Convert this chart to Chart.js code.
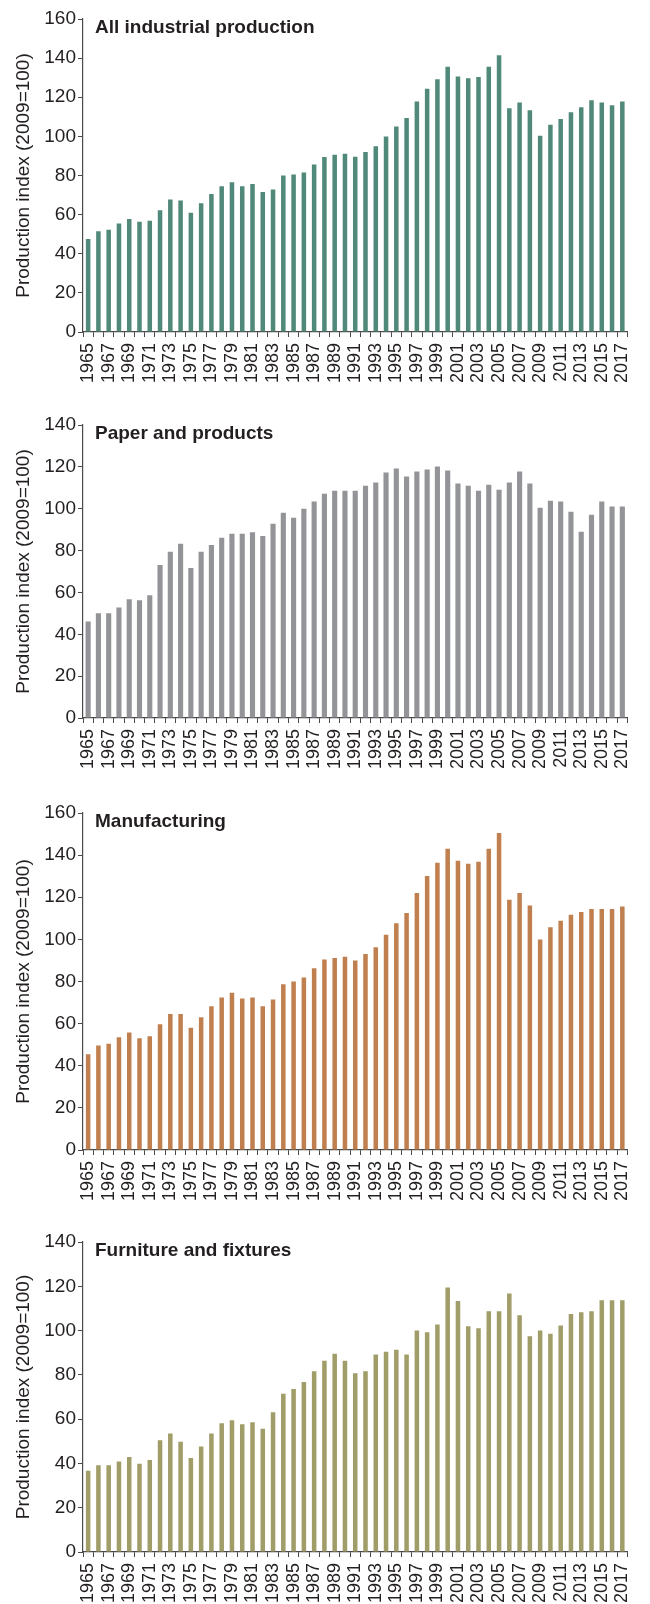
<!DOCTYPE html>
<html>
<head>
<meta charset="utf-8">
<script src="https://cdn.jsdelivr.net/npm/chart.js"></script>
<style>
  body { margin: 0; background: #fff; }
  #wrap { position: relative; width: 650px; height: 1604px; overflow: hidden; }
  canvas { position: absolute; left: 0; }
</style>
</head>
<body>
<div id="wrap">
  <canvas id="chart1" width="650" height="390" style="top:0px"></canvas>
  <canvas id="chart2" width="650" height="390" style="top:390px"></canvas>
  <canvas id="chart3" width="650" height="420" style="top:780px"></canvas>
  <canvas id="chart4" width="650" height="404" style="top:1200px"></canvas>
</div>
<script>
// Years along the x-axis
var years = [1965, 1966, 1967, 1968, 1969, 1970, 1971, 1972, 1973, 1974,
             1975, 1976, 1977, 1978, 1979, 1980, 1981, 1982, 1983, 1984,
             1985, 1986, 1987, 1988, 1989, 1990, 1991, 1992, 1993, 1994,
             1995, 1996, 1997, 1998, 1999, 2000, 2001, 2002, 2003, 2004,
             2005, 2006, 2007, 2008, 2009, 2010, 2011, 2012, 2013, 2014,
             2015, 2016, 2017];
// Production index values (2009=100)
var allIndustrial = [47.5, 51.5, 52.3, 55.4, 57.8, 56.4, 56.9, 62.2, 67.7, 67.2,
                     60.9, 65.8, 70.6, 74.5, 76.6, 74.5, 75.7, 71.6, 72.8, 80,
                     80.5, 81.5, 85.6, 89.5, 90.6, 91.1, 89.6, 92, 95, 100,
                     105, 109.4, 117.8, 124.3, 129.2, 135.6, 130.6, 129.7, 130.3, 135.6,
                     141.5, 114.4, 117.3, 113.3, 100.3, 106, 108.9, 112.3, 114.9, 118.5,
                     117.3, 115.9, 117.8];
var paper = [46.1, 50.1, 50.1, 52.8, 56.8, 56.3, 58.7, 73.1, 79.4, 83.2,
             71.7, 79.4, 82.7, 86.1, 88, 88, 88.8, 87, 92.8, 98.1,
             95.7, 100, 103.4, 107.2, 108.6, 108.6, 108.6, 111, 112.5, 117.3,
             119.2, 115.4, 117.8, 118.7, 120.2, 118.2, 112, 111, 108.6, 111.5,
             109.1, 112.5, 117.8, 112, 100.5, 103.8, 103.4, 98.6, 89, 97.1,
             103.4, 101, 101];
var manufacturing = [45.5, 49.6, 50.4, 53.5, 55.8, 53.1, 54, 59.7, 64.6, 64.6,
                     58, 63, 68.3, 72.4, 74.6, 71.9, 72.4, 68.3, 71.4, 78.7,
                     80, 81.9, 86.3, 90.5, 91.2, 91.7, 90, 93.1, 96.3, 102.2,
                     107.6, 112.5, 122, 130.1, 136.4, 143, 137.3, 135.9, 136.9, 143,
                     150.5, 118.8, 122, 116.1, 100, 105.8, 108.8, 111.7, 113, 114.4,
                     114.4, 114.4, 115.6];
var furniture = [36.7, 39.2, 39.2, 40.9, 42.9, 39.8, 41.6, 50.5, 53.5, 49.8,
                 42.5, 47.7, 53.5, 58.1, 59.5, 57.7, 58.6, 55.7, 63.1, 71.5,
                 73.6, 76.8, 81.6, 86.4, 89.5, 86.4, 80.7, 81.6, 89.2, 90.4,
                 91.3, 89.2, 100, 99.2, 102.7, 119.4, 113.3, 102, 101.1, 108.7,
                 108.7, 116.7, 106.9, 97.4, 100, 98.6, 102.3, 107.5, 108.3, 108.7,
                 113.7, 113.7, 113.7];

var textColor = "#231f20";
var axisColor = "#4a4a4a";
var fontFamily = "'Liberation Sans', Arial, sans-serif";

// writes the panel title inside the plot area, top left
var panelTitle = {
    id: 'panelTitle',
    afterDraw: function (chart) {
        var ctx = chart.ctx;
        var area = chart.chartArea;
        ctx.save();
        ctx.font = "bold 19px " + fontFamily;
        ctx.fillStyle = textColor;
        ctx.textBaseline = 'alphabetic';
        ctx.fillText(chart.options.panelName, area.left + 12, area.top + 14);
        ctx.restore();
    }
};

function makePanel(id, name, values, color, yMax, padTop, xHeight, barPct) {
    return new Chart(document.getElementById(id), {
        type: 'bar',
        data: {
            labels: years,
            datasets: [{
                data: values,
                backgroundColor: color,
                borderWidth: 0,
                barPercentage: barPct,
                categoryPercentage: 1.0
            }]
        },
        plugins: [panelTitle],
        options: {
            panelName: name,
            responsive: false,
            animation: false,
            devicePixelRatio: 1,
            layout: { padding: { top: padTop, right: 8, left: 0, bottom: 0 } },
            plugins: {
                legend: { display: false },
                tooltip: { enabled: false }
            },
            scales: {
                x: {
                    offset: true,
                    afterFit: function (s) { s.height = xHeight; },
                    grid: {
                        display: true,
                        offset: true,
                        drawOnChartArea: false,
                        drawTicks: true,
                        tickLength: 5,
                        color: axisColor,
                        lineWidth: 1
                    },
                    border: { display: true, color: axisColor, width: 1.2 },
                    ticks: {
                        autoSkip: false,
                        minRotation: 90,
                        maxRotation: 90,
                        padding: 6,
                        color: textColor,
                        font: { family: fontFamily, size: 18 },
                        callback: function (v, i) { return i % 2 === 0 ? years[i] : ''; }
                    }
                },
                y: {
                    min: 0,
                    max: yMax,
                    afterFit: function (s) { s.width = 83; },
                    grid: {
                        display: true,
                        drawOnChartArea: false,
                        drawTicks: true,
                        tickLength: 5,
                        color: axisColor,
                        lineWidth: 1
                    },
                    border: { display: true, color: axisColor, width: 1.2 },
                    ticks: {
                        stepSize: 20,
                        padding: 2,
                        color: textColor,
                        font: { family: fontFamily, size: 19 }
                    },
                    title: {
                        display: true,
                        text: 'Production index (2009=100)',
                        color: textColor,
                        font: { family: fontFamily, size: 19 },
                        padding: { top: 12, bottom: 0 }
                    }
                }
            }
        }
    });
}

var chart1 = makePanel('chart1', 'All industrial production', allIndustrial, '#50897a', 160, 19, 58, 0.44);
var chart2 = makePanel('chart2', 'Paper and products', paper, '#939498', 140, 35, 62, 0.5);
var chart3 = makePanel('chart3', 'Manufacturing', manufacturing, '#c07f4f', 160, 33, 50, 0.44);
var chart4 = makePanel('chart4', 'Furniture and fixtures', furniture, '#a19d68', 140, 42, 52, 0.44);
</script>
</body>
</html>
